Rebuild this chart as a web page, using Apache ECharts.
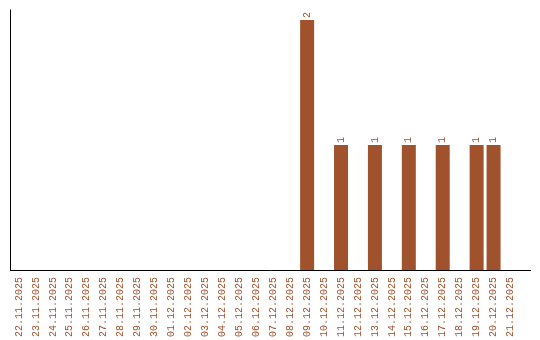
<!DOCTYPE html>
<html><head><meta charset="utf-8">
<script src="https://cdn.jsdelivr.net/npm/echarts@6/dist/echarts.min.js"></script>
<style>html,body{margin:0;padding:0;background:#fff}#c{width:540px;height:340px}</style>
</head><body><div id="c"></div>
<script>
const categories = ["22.11.2025","23.11.2025","24.11.2025","25.11.2025","26.11.2025","27.11.2025","28.11.2025","29.11.2025","30.11.2025","01.12.2025","02.12.2025","03.12.2025","04.12.2025","05.12.2025","06.12.2025","07.12.2025","08.12.2025","09.12.2025","10.12.2025","11.12.2025","12.12.2025","13.12.2025","14.12.2025","15.12.2025","16.12.2025","17.12.2025","18.12.2025","19.12.2025","20.12.2025","21.12.2025"];
const counts = [null,null,null,null,null,null,null,null,null,null,null,null,null,null,null,null,null,2,null,1,null,1,null,1,null,1,null,1,1,null];
const color = '#A0522D';
const font = 'Liberation Mono';
const chart = echarts.init(document.getElementById('c'), null, {renderer:'canvas'});
chart.setOption({
  animation:false,
  grid:[
    {left:10.5, right:21, top:10, bottom:69.5},
    {left:10.5, right:9.5, top:10, bottom:69.5}
  ],
  xAxis:[
    {type:'category', gridIndex:0, data:categories,
     axisLine:{show:false}, axisTick:{show:false},
     axisLabel:{rotate:90, interval:0, color:color, fontFamily:font, fontSize:10, margin:7}},
    {type:'value', gridIndex:1, min:0, max:1, show:true,
     axisLine:{show:true, onZero:false, lineStyle:{color:'#000', width:1}},
     axisTick:{show:false}, axisLabel:{show:false}, splitLine:{show:false}}
  ],
  yAxis:[
    {type:'value', gridIndex:0, min:0, max:2.08,
     axisLine:{show:true, lineStyle:{color:'#000', width:1}},
     axisTick:{show:false}, axisLabel:{show:false}, splitLine:{show:false}},
    {type:'value', gridIndex:1, min:0, max:1, show:false}
  ],
  series:[{
    type:'bar', xAxisIndex:0, yAxisIndex:0, data:counts, barWidth:14,
    itemStyle:{color:color},
    label:{show:true, position:'top', rotate:90, align:'left', verticalAlign:'middle', distance:2,
      color:color, fontFamily:font, fontSize:10}
  }]
});
</script></body></html>
